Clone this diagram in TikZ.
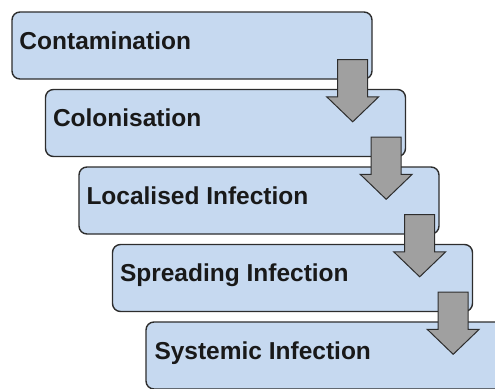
\documentclass[tikz,border=0pt]{standalone}
\usepackage{fontspec}
\setmainfont{Liberation Sans}
\usetikzlibrary{calc}

\definecolor{stagefill}{RGB}{198,217,240}
\definecolor{arrowfill}{RGB}{160,160,160}
\definecolor{edgegray}{RGB}{45,45,45}

\tikzset{
  stage/.style={draw=edgegray, fill=stagefill, line width=1.4pt, rounded corners=8pt,
    minimum width=360pt, minimum height=67pt, inner sep=0pt},
  stagetext/.style={anchor=base west, inner sep=0pt,
    font=\fontsize{24.5}{29}\selectfont\bfseries, text=black!90},
  flow/.style={draw=edgegray, fill=arrowfill, line width=1pt, line join=miter}
}

% block arrow from the lower right of one stage into the next
\newcommand{\flowarrow}[2]{%
  \draw[flow] let \p1=(#1.south east), \p2=(#2.north) in
    (\x1-35pt,\y1+20pt) -- (\x1-5pt,\y1+20pt) -- (\x1-5pt,\y2-8pt)
    -- (\x1+6pt,\y2-8pt) -- (\x1-20pt,\y2-33pt) -- (\x1-46pt,\y2-8pt)
    -- (\x1-35pt,\y2-8pt) -- cycle;}

\begin{document}
\begin{tikzpicture}[x=1pt, y=1pt]
\useasboundingbox (0,0) rectangle (495,-388);
\clip (0,0) rectangle (495,-388);

\path (192,-45.5) node[stage] (b1) {}
      (225.5,-123) node[stage] (b2) {}
      (259,-200.5) node[stage] (b3) {}
      (292.5,-278) node[stage] (b4) {}
      (326,-355.5) node[stage] (b5) {};

\node[stagetext] (t1) at ($(b1.north west)+(8,-38)$) {Contamination};
\node[stagetext] (t2) at ($(b2.north west)+(8,-38)$) {Colonisation};
\node[stagetext] (t3) at ($(b3.north west)+(8,-38)$) {Localised Infection};
\node[stagetext] (t4) at ($(b4.north west)+(8,-38)$) {Spreading Infection};
\node[stagetext] (t5) at ($(b5.north west)+(9,-38)$) {Systemic Infection};

\flowarrow{b1}{b2}
\flowarrow{b2}{b3}
\flowarrow{b3}{b4}
\flowarrow{b4}{b5}

\end{tikzpicture}
\end{document}
